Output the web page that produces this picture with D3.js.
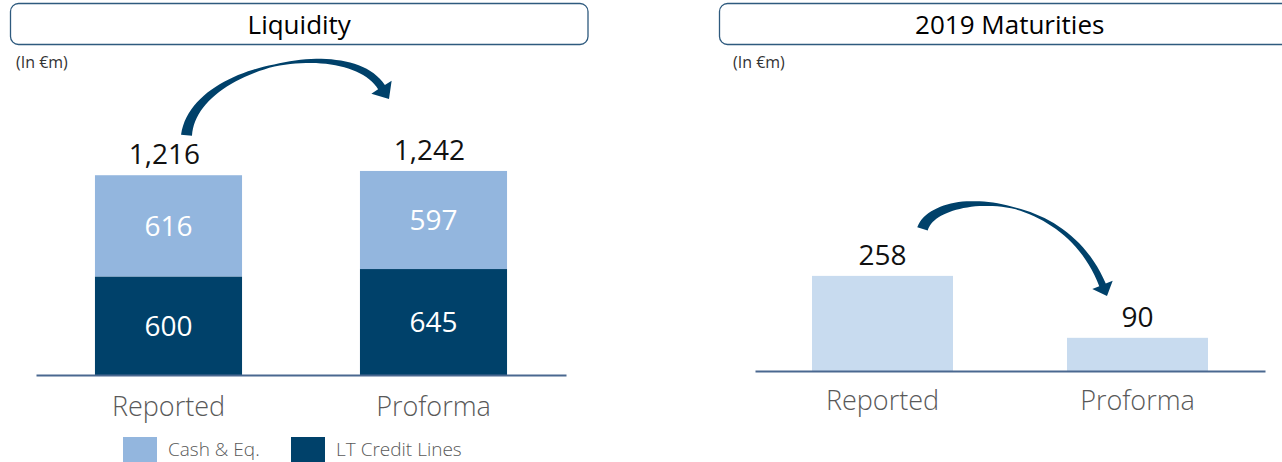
<!DOCTYPE html>
<html>
<head>
<meta charset="utf-8">
<script src="https://cdn.jsdelivr.net/npm/d3@7"></script>
<style>
  body { margin: 0; background: #fff; }
  svg { display: block; font-family: "Open Sans", "Noto Sans", sans-serif; }
</style>
</head>
<body>
<div id="chart"></div>
<script>
// ------------------------------
// DATA
// ------------------------------
const categories = ["Reported", "Proforma"];
const creditLines = [600, 645];   // LT Credit Lines (bottom)
const cashEq = [616, 597];        // Cash & Eq. (top)
const liquidityTotals = [1216, 1242];
const maturities2019 = [258, 90];
const legendLabels = ["Cash & Eq.", "LT Credit Lines"];

const colCash = "#93B6DE";
const colCredit = "#00416A";
const colMat = "#C8DBEF";
const colAxis = "#4A6890";
const colArrow = "#00416A";

const W = 1282, H = 462;
const svg = d3.select("#chart").append("svg").attr("width", W).attr("height", H);

const fmt = d3.format(",");

// ------------------------------
// PANEL HEADERS
// ------------------------------
function header(x0, x1, title, unitX) {
  svg.append("rect")
    .attr("x", x0).attr("y", 3.5).attr("width", x1 - x0).attr("height", 41)
    .attr("rx", 8).attr("fill", "none").attr("stroke", "#2E5A7E").attr("stroke-width", 1.3);
  svg.append("text")
    .attr("x", (x0 + Math.min(x1, 1300)) / 2).attr("y", 34)
    .attr("text-anchor", "middle").attr("font-size", 26).attr("fill", "#000")
    .text(title);
  svg.append("text")
    .attr("x", unitX).attr("y", 68)
    .attr("font-size", 16).attr("fill", "#333")
    .text("(In €m)");
}
header(10.5, 588, "Liquidity", 16);
header(719.5, 1300, "2019 Maturities", 733);

// ------------------------------
// CURVED ARROW (tapered)
// ------------------------------
function curvedArrow(p0, p1, p2, p3, widthT, widthV, headLen, headHalf) {
  const bez = t => {
    const u = 1 - t;
    return [
      u*u*u*p0[0] + 3*u*u*t*p1[0] + 3*u*t*t*p2[0] + t*t*t*p3[0],
      u*u*u*p0[1] + 3*u*u*t*p1[1] + 3*u*t*t*p2[1] + t*t*t*p3[1]
    ];
  };
  const der = t => {
    const u = 1 - t;
    return [
      3*u*u*(p1[0]-p0[0]) + 6*u*t*(p2[0]-p1[0]) + 3*t*t*(p3[0]-p2[0]),
      3*u*u*(p1[1]-p0[1]) + 6*u*t*(p2[1]-p1[1]) + 3*t*t*(p3[1]-p2[1])
    ];
  };
  const wScale = d3.scaleLinear().domain(widthT).range(widthV);
  const left = [], right = [];
  d3.range(0, 1.0001, 0.02).forEach(t => {
    const p = bez(t), d = der(t);
    const len = Math.hypot(d[0], d[1]);
    const n = [-d[1] / len, d[0] / len];
    const w = wScale(t) / 2;
    left.push([p[0] + n[0]*w, p[1] + n[1]*w]);
    right.push([p[0] - n[0]*w, p[1] - n[1]*w]);
  });
  const d = der(1), len = Math.hypot(d[0], d[1]);
  const tg = [d[0]/len, d[1]/len], n = [-tg[1], tg[0]];
  const e = bez(1);
  const head = [
    [e[0] + n[0]*headHalf, e[1] + n[1]*headHalf],
    [e[0] + tg[0]*headLen, e[1] + tg[1]*headLen],
    [e[0] - n[0]*headHalf, e[1] - n[1]*headHalf]
  ];
  const pts = left.concat(head, right.reverse());
  svg.append("path")
    .attr("d", d3.line()(pts) + "Z")
    .attr("fill", colArrow);
}

// ------------------------------
// LIQUIDITY (stacked)
// ------------------------------
const xL = d3.scaleBand().domain(categories).range([36, 566])
  .paddingInner(0.445).paddingOuter(0.2225);
const yL = d3.scaleLinear().domain([0, 1400]).range([375, 145]);

const stackRows = categories.map((c, i) => ({ cat: c, credit: creditLines[i], cash: cashEq[i] }));
const series = d3.stack().keys(["credit", "cash"])(stackRows);
const stackCol = { credit: colCredit, cash: colCash };

const gL = svg.append("g");
series.forEach(s => {
  gL.selectAll(null).data(s).enter().append("rect")
    .attr("x", d => xL(d.data.cat))
    .attr("y", d => yL(d[1]))
    .attr("width", xL.bandwidth())
    .attr("height", d => yL(d[0]) - yL(d[1]))
    .attr("fill", stackCol[s.key]);
  gL.selectAll(null).data(s).enter().append("text")
    .attr("x", d => xL(d.data.cat) + xL.bandwidth() / 2)
    .attr("y", d => (yL(d[0]) + yL(d[1])) / 2 + 10)
    .attr("text-anchor", "middle").attr("font-size", 28).attr("fill", "#fff")
    .text(d => d.data[s.key]);
});
gL.selectAll(null).data(liquidityTotals).enter().append("text")
  .attr("x", (d, i) => xL(categories[i]) + xL.bandwidth() / 2 - 4)
  .attr("y", d => yL(d) - 11)
  .attr("text-anchor", "middle").attr("font-size", 28).attr("fill", "#111")
  .text(d => fmt(d));

const axL = svg.append("g").attr("transform", "translate(0,375)")
  .call(d3.axisBottom(xL).tickSize(0).tickPadding(22));
axL.select(".domain").attr("stroke", colAxis).attr("stroke-width", 2);
axL.selectAll("text").attr("font-size", 27).attr("fill", "#595959")
  .attr("font-family", "'Open Sans', sans-serif").attr("font-weight", 300);

// legend
const legX = [123, 291];
legendLabels.forEach((lab, i) => {
  svg.append("rect").attr("x", legX[i]).attr("y", 437).attr("width", 34).attr("height", 30)
    .attr("fill", i === 0 ? colCash : colCredit);
  svg.append("text").attr("x", legX[i] + 45).attr("y", 456)
    .attr("font-size", 19).attr("fill", "#595959").attr("font-weight", 300).text(lab);
});

// arrow Reported -> Proforma
{
  const cx0 = xL("Reported") + xL.bandwidth() / 2, cx1 = xL("Proforma") + xL.bandwidth() / 2;
  const yTop = yL(liquidityTotals[0]);
  curvedArrow([cx0 + 18, yTop - 40], [cx0 + 25, yTop - 110], [cx0 + 180, yTop - 140], [cx1 - 52, yTop - 88],
    [0, 0.5, 0.85, 1], [11, 2, 7, 8], 14, 12);
}

// ------------------------------
// 2019 MATURITIES
// ------------------------------
const xR = d3.scaleBand().domain(categories).range([755, 1265])
  .paddingInner(0.447).paddingOuter(0.2235);
const yR = d3.scaleLinear().domain([0, 300]).range([371, 260.4]);

const gR = svg.append("g");
gR.selectAll("rect").data(maturities2019).enter().append("rect")
  .attr("x", (d, i) => xR(categories[i]))
  .attr("y", d => yR(d))
  .attr("width", xR.bandwidth())
  .attr("height", d => yR(0) - yR(d))
  .attr("fill", colMat);
gR.selectAll("text").data(maturities2019).enter().append("text")
  .attr("x", (d, i) => xR(categories[i]) + xR.bandwidth() / 2)
  .attr("y", d => yR(d) - 11)
  .attr("text-anchor", "middle").attr("font-size", 28).attr("fill", "#111")
  .text(d => fmt(d));

const axR = svg.append("g").attr("transform", "translate(0,371)")
  .call(d3.axisBottom(xR).tickSize(0).tickPadding(20));
axR.select(".domain").attr("stroke", colAxis).attr("stroke-width", 2);
axR.selectAll("text").attr("font-size", 27).attr("fill", "#595959")
  .attr("font-family", "'Open Sans', sans-serif").attr("font-weight", 300);

{
  const cx0 = xR("Reported") + xR.bandwidth() / 2, cx1 = xR("Proforma") + xR.bandwidth() / 2;
  const yTop = yR(maturities2019[0]);
  curvedArrow([cx0 + 40, yTop - 47], [cx0 + 52, yTop - 85], [cx0 + 180, yTop - 90], [cx1 - 35, yTop + 9],
    [0, 0.3, 0.55, 1], [11, 7, 1.5, 7], 12, 11);
}
</script>
</body>
</html>
